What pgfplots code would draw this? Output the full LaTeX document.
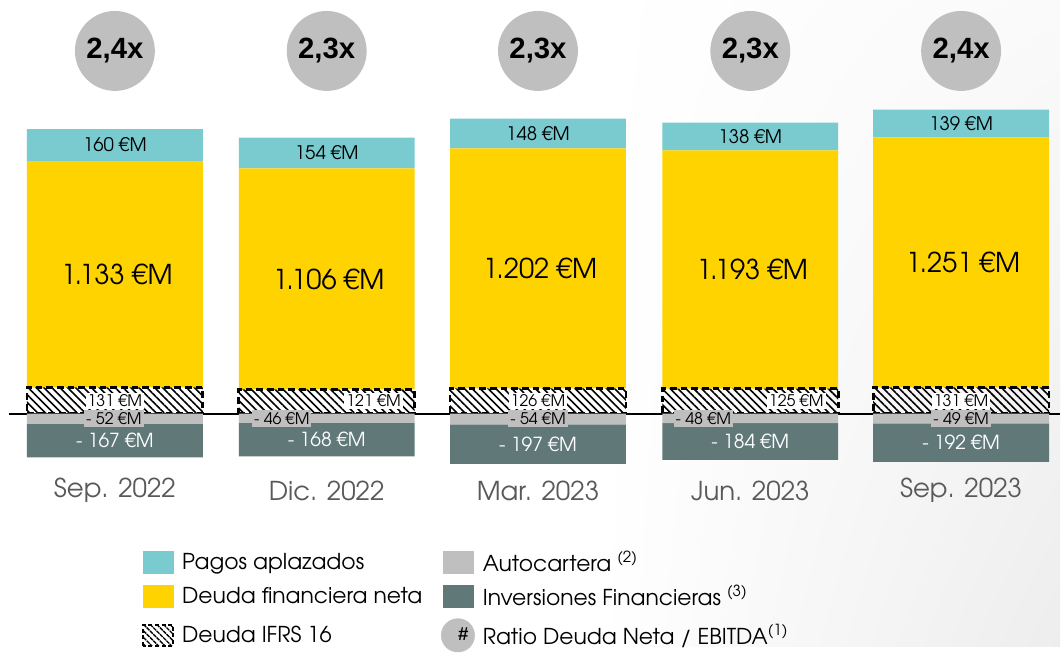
\documentclass[border=0pt]{standalone}
\usepackage{pgfplots}
\pgfplotsset{compat=1.18}
\usepackage{fontspec}
\usetikzlibrary{patterns,patterns.meta,shadings}
\setmainfont{TeX Gyre Adventor}
\newfontfamily\arialf{Liberation Sans}
\definecolor{pagos}{HTML}{79CBD0}
\definecolor{deuda}{HTML}{FFD300}
\definecolor{autoc}{HTML}{BFBFBF}
\definecolor{inver}{HTML}{617879}
\definecolor{catgray}{HTML}{595959}
\newcommand{\fs}[1]{\fontsize{#1}{#1}\selectfont}

\pgfplotsset{
  base/.style={scale only axis, width=795.75pt, height=485.25pt,
    xmin=0, xmax=1061, ymin=-1165, ymax=2070, hide axis, clip=false},
  lab/.style={draw=none, mark=none, forget plot, nodes near coords,
    point meta=explicit symbolic,
    every node near coord/.append style={anchor=center, #1}},
}

\begin{document}
\begin{tikzpicture}
\fill[white] (0,0) rectangle (795.75pt,485.25pt);
\shade[upper left=white, lower left=white, upper right=black!2, lower right=black!7]
  (450pt,0) rectangle (795.75pt,485.25pt);

% positive part: IFRS 16, deuda financiera neta, pagos aplazados
\begin{axis}[base, ybar stacked, bar width=176,
  legend columns=2, legend cell align=left,
  legend style={at={(axis cs:142,-685)}, anchor=north west, draw=none,
    fill=none, inner sep=0pt, font=\fs{16.4}, row sep=8pt, column sep=6pt,
    nodes={inner sep=0pt},
    /tikz/every even column/.append style={column sep=14pt}}]
\addplot[forget plot, draw=black, line width=2pt, dash pattern=on 5pt off 3pt,
  pattern={Lines[angle=-45, distance=4.2pt, line width=1.2pt]}]
  coordinates {(115,131) (327,121) (538.5,126) (751,125) (962,131)};
\addplot[forget plot, fill=deuda, draw=none]
  coordinates {(115,1133) (327,1106) (538.5,1202) (751,1193) (962,1251)};
\addplot[forget plot, fill=pagos, draw=none]
  coordinates {(115,160) (327,154) (538.5,148) (751,138) (962,139)};

\addlegendimage{legend image code/.code={\fill[pagos] (0pt,-8.5pt) rectangle (22.5pt,8.5pt);}}
\addlegendentry{Pagos aplazados}
\addlegendimage{legend image code/.code={\fill[autoc] (0pt,-8.5pt) rectangle (22.5pt,8.5pt);}}
\addlegendentry{Autocartera \textsuperscript{(2)}}
\addlegendimage{legend image code/.code={\fill[deuda] (0pt,-8.5pt) rectangle (22.5pt,8.5pt);}}
\addlegendentry{Deuda financiera neta}
\addlegendimage{legend image code/.code={\fill[inver] (0pt,-8.5pt) rectangle (22.5pt,8.5pt);}}
\addlegendentry{Inversiones Financieras \textsuperscript{(3)}}
\addlegendimage{legend image code/.code={\draw[pattern={Lines[angle=-45, distance=3.5pt, line width=1pt]},
  line width=1.5pt, dash pattern=on 3pt off 2pt] (0pt,-8pt) rectangle (22.5pt,8pt);}}
\addlegendentry{Deuda IFRS 16}
\addlegendimage{legend image code/.code={\fill[autoc] (11.25pt,0pt) circle (12.5pt);
  \node[font=\arialf\bfseries\fs{14}] at (11.25pt,0pt) {\#};}}
\addlegendentry{Ratio Deuda Neta / EBITDA\textsuperscript{(1)}}
\end{axis}

% negative part: autocartera, inversiones financieras
\begin{axis}[base, ybar stacked, bar width=176]
\addplot[fill=autoc, draw=none]
  coordinates {(115,-52) (327,-46) (538.5,-54) (751,-48) (962,-49)};
\addplot[fill=inver, draw=none]
  coordinates {(115,-167) (327,-168) (538.5,-197) (751,-184) (962,-192)};
\draw[black, line width=1.5pt] (axis cs:9,0) -- (axis cs:1061,0);
\end{axis}

% labels and ratio circles
\begin{axis}[base]
\addplot[lab={circle, fill=autoc, minimum size=60pt, inner sep=0pt,
    font=\arialf\bfseries\fs{22}, text=black}]
  coordinates {(115,1815) [{2,4x}] (327,1815) [{2,3x}] (538.5,1815) [{2,3x}]
    (751,1815) [{2,3x}] (962,1815) [{2,4x}]};
\addplot[lab={font=\fs{14}, text=black}]
  coordinates {(115,1344) [160 €M] (327,1304) [154 €M] (538.5,1402) [148 €M]
    (751,1387) [138 €M] (962,1451.5) [139 €M]};
\addplot[lab={font=\fs{20.5}, text=black}]
  coordinates {(117,697) [1.133 €M] (329,674) [1.106 €M] (540.5,727) [1.202 €M]
    (753,721) [1.193 €M] (964,756) [1.251 €M]};
\addplot[lab={font=\fs{12}, text=black, fill=white, inner sep=1.5pt}]
  coordinates {(115,65) [131 €M] (374,65) [121 €M] (538.5,65) [126 €M]
    (797,65) [125 €M] (962,65) [131 €M]};
\addplot[lab={font=\fs{12}, text=black, fill=autoc, inner sep=1.5pt}]
  coordinates {(114,-25) [- 52 €M] (282,-25) [- 46 €M] (538.5,-25) [- 54 €M]
    (704,-25) [- 48 €M] (962,-25) [- 49 €M]};
\addplot[lab={font=\fs{14.5}, text=white}]
  coordinates {(115,-135.5) [- 167 €M] (327,-130) [- 168 €M] (538.5,-152.5) [- 197 €M]
    (751,-140) [- 184 €M] (962,-145) [- 192 €M]};
\addplot[lab={font=\fs{19.5}, text=catgray}]
  coordinates {(115,-385) [Sep. 2022] (327,-385) [Dic. 2022] (538.5,-385) [Mar. 2023]
    (751,-385) [Jun. 2023] (962,-385) [Sep. 2023]};
\end{axis}
\end{tikzpicture}
\end{document}
